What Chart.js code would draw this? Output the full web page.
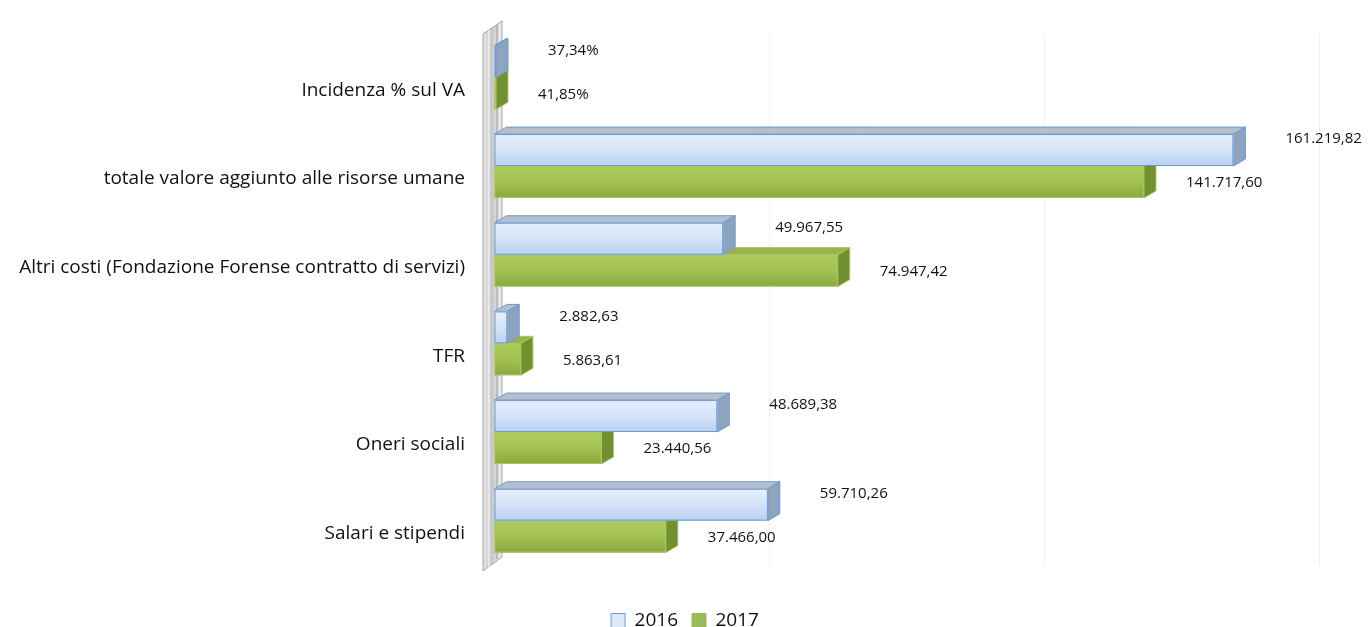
<!DOCTYPE html>
<html lang="it">
<head>
<meta charset="UTF-8">
<title>Valore aggiunto risorse umane</title>
<script src="https://cdn.jsdelivr.net/npm/chart.js"></script>
<style>
  html, body { margin: 0; padding: 0; background: #fff; }
  #wrap { width: 1370px; height: 627px; position: relative; }
</style>
</head>
<body>
<div id="wrap"><canvas id="chart"></canvas></div>
<script>
// categories, top to bottom as in the picture
const categories = [
  'Incidenza % sul VA',
  'totale valore aggiunto alle risorse umane',
  'Altri costi (Fondazione Forense contratto di servizi)',
  'TFR',
  'Oneri sociali',
  'Salari e stipendi'
];
const years = ['2016', '2017'];
const values2016 = [37.34, 161219.82, 49967.55, 2882.63, 48689.38, 59710.26];
const values2017 = [41.85, 141717.60, 74947.42, 5863.61, 23440.56, 37466.00];
const gridTicks = [0, 60000, 120000, 180000];

// italian number format: 161.219,82
function fmt(v, idx) {
  const parts = v.toFixed(2).split('.');
  const intPart = parts[0].replace(/\B(?=(\d{3})+(?!\d))/g, '.');
  const s = intPart + ',' + parts[1];
  return idx === 0 ? s + '%' : s;
}

const DX = 12, DY = 7;   // 3d depth
const looks = [
  { front: ['#e7effc', '#d5e3f8', '#b9d1f2'], edge: '#6a9ad2', top: '#b5bfcc', side: '#8ea3bd' },
  { front: ['#aecb60', '#a3c252', '#89a73f'], edge: '#a9c761', top: '#98b54b', side: '#71902f' }
];
const labelShift = [{ x: 52, y: -11 }, { x: 42, y: 1 }];

const bar3d = {
  id: 'bar3d',
  beforeDatasetsDraw(chart) {
    // grey side wall
    const ctx = chart.ctx, a = chart.chartArea;
    const L = a.left, T = a.top, B = a.bottom;
    ctx.save();
    const g = ctx.createLinearGradient(L - 11, 0, L + 8, 0);
    g.addColorStop(0, '#e6e6e6');
    g.addColorStop(0.45, '#c6c6c6');
    g.addColorStop(1, '#efefef');
    ctx.beginPath();
    ctx.moveTo(L - 11, T + 1);
    ctx.lineTo(L + 8, T - 12);
    ctx.lineTo(L + 8, B - 8);
    ctx.lineTo(L - 11, B + 6);
    ctx.closePath();
    ctx.fillStyle = g;
    ctx.fill();
    ctx.strokeStyle = '#a6a6a6';
    ctx.lineWidth = 1;
    ctx.stroke();
    ctx.beginPath();
    ctx.moveTo(L - 5, T - 3); ctx.lineTo(L - 5, B + 2);
    ctx.strokeStyle = '#ffffff';
    ctx.stroke();
    ctx.beginPath();
    ctx.moveTo(L + 3, T - 9); ctx.lineTo(L + 3, B - 6);
    ctx.strokeStyle = '#9a9a9a';
    ctx.stroke();
    ctx.restore();
  },
  beforeDatasetDraw(chart, args) {
    const ctx = chart.ctx, lk = looks[args.index];
    ctx.save();
    args.meta.data.forEach(bar => {
      const p = bar.getProps(['x', 'y', 'base', 'height'], true);
      const top = p.y - p.height / 2, bot = p.y + p.height / 2;
      const x0 = Math.min(p.base, p.x), x1 = Math.max(p.base, p.x);
      ctx.lineWidth = 1;
      ctx.strokeStyle = lk.edge;
      // top face
      ctx.beginPath();
      ctx.moveTo(x0, top); ctx.lineTo(x0 + DX, top - DY);
      ctx.lineTo(x1 + DX, top - DY); ctx.lineTo(x1, top); ctx.closePath();
      ctx.fillStyle = lk.top; ctx.fill(); ctx.stroke();
      // right face
      ctx.beginPath();
      ctx.moveTo(x1, top); ctx.lineTo(x1 + DX, top - DY);
      ctx.lineTo(x1 + DX, bot - DY); ctx.lineTo(x1, bot); ctx.closePath();
      ctx.fillStyle = lk.side; ctx.fill(); ctx.stroke();
      // front face
      const g = ctx.createLinearGradient(0, top, 0, bot);
      g.addColorStop(0, lk.front[0]);
      g.addColorStop(0.5, lk.front[1]);
      g.addColorStop(1, lk.front[2]);
      ctx.fillStyle = g;
      ctx.fillRect(x0, top, x1 - x0, bot - top);
      ctx.strokeRect(x0 + 0.5, top + 0.5, x1 - x0 - 1, bot - top - 1);
    });
    ctx.restore();
    return false;
  },
  afterDatasetsDraw(chart) {
    const ctx = chart.ctx;
    ctx.save();
    ctx.font = '15px "Open Sans"';
    ctx.fillStyle = '#111';
    ctx.textAlign = 'left';
    ctx.textBaseline = 'middle';
    chart.data.datasets.forEach((ds, di) => {
      chart.getDatasetMeta(di).data.forEach((bar, i) => {
        const x = Math.max(bar.x, bar.base) + labelShift[di].x;
        ctx.fillText(fmt(ds.data[i], i), x, bar.y + labelShift[di].y);
      });
    });
    ctx.restore();
  }
};

new Chart(document.getElementById('chart'), {
  type: 'bar',
  data: {
    labels: categories,
    datasets: [
      { label: years[0], data: values2016, backgroundColor: '#dce8fa', borderColor: '#6a9ad2', borderWidth: 1 },
      { label: years[1], data: values2017, backgroundColor: '#9bbb59', borderColor: '#9bbb59', borderWidth: 1 }
    ]
  },
  options: {
    indexAxis: 'y',
    responsive: true,
    maintainAspectRatio: false,
    animation: false,
    minBarLength: 2,
    categoryPercentage: 0.72,
    barPercentage: 1,
    layout: { padding: { top: 33, right: 0, bottom: -13, left: 0 } },
    scales: {
      x: {
        min: 0, max: 191000,
        ticks: { display: false },
        afterBuildTicks(scale) { scale.ticks = gridTicks.map(v => ({ value: v })); },
        grid: { color: '#f0f0f0', drawTicks: false },
        border: { display: false },
        afterFit(scale) { scale.height = 32; }
      },
      y: {
        grid: { display: false, drawTicks: false },
        border: { display: false },
        ticks: { color: '#111', font: { family: 'Open Sans', size: 19 }, padding: 29, labelOffset: 13 },
        afterFit(scale) {
          scale.width = 494;
          scale.paddingTop = 0;
          scale.paddingBottom = 0;
        }
      }
    },
    plugins: {
      legend: {
        position: 'bottom',
        labels: { boxWidth: 14, boxHeight: 14, padding: 14, color: '#111', font: { family: 'Open Sans', size: 19 } }
      },
      tooltip: { enabled: false }
    }
  },
  plugins: [bar3d]
});
</script>
</body>
</html>
